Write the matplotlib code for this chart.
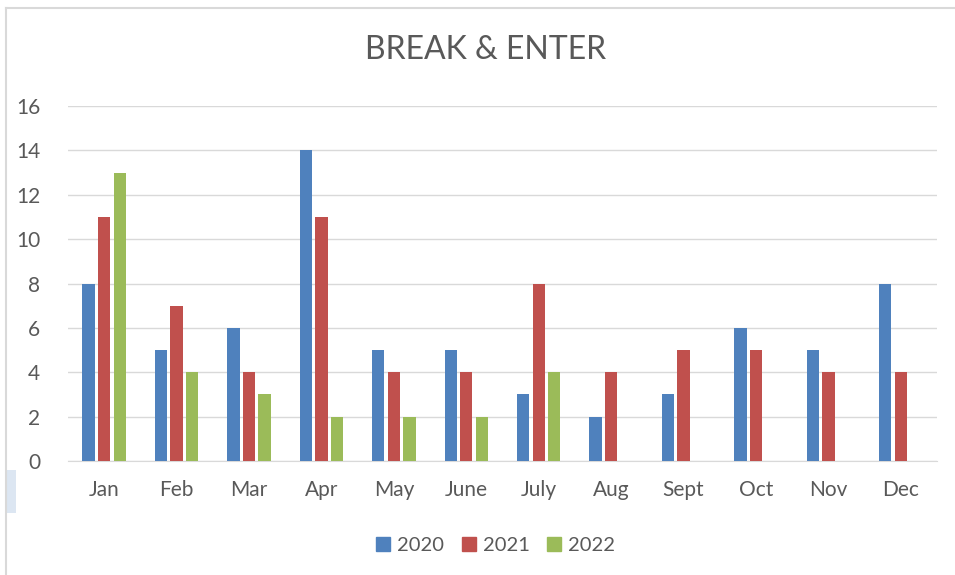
import matplotlib.pyplot as plt
import numpy as np
from matplotlib.patches import Rectangle
from matplotlib.lines import Line2D

plt.rcParams['font.family'] = ['Lato', 'DejaVu Sans']

months = ['Jan', 'Feb', 'Mar', 'Apr', 'May', 'June', 'July', 'Aug', 'Sept', 'Oct', 'Nov', 'Dec']
v2020 = [8, 5, 6, 14, 5, 5, 3, 2, 3, 6, 5, 8]
v2021 = [11, 7, 4, 11, 4, 4, 8, 4, 5, 5, 4, 4]
v2022 = [13, 4, 3, 2, 2, 2, 4, 0, 0, 0, 0, 0]
years = ['2020', '2021', '2022']
colors = ['#4F81BD', '#C0504D', '#9BBB59']

fig = plt.figure(figsize=(9.55, 5.75), dpi=100)
ax = fig.add_axes([68/955, 1-461/575, 869/955, 355/575])

x = np.arange(len(months))
w = 0.17
off = 0.215
for i, (vals, c, lab) in enumerate(zip([v2020, v2021, v2022], colors, years)):
    ax.bar(x + (i-1)*off, vals, width=w, color=c, label=lab, zorder=3)

ax.set_xlim(-0.5, len(months)-0.5)
ax.set_ylim(0, 16)
ax.set_yticks(range(0, 17, 2))
ax.set_xticks(x)
ax.set_xticklabels(months)
ax.tick_params(axis='both', length=0, labelsize=15, colors='#595959')
ax.tick_params(axis='x', pad=14)
ax.tick_params(axis='y', pad=20)
ax.grid(axis='y', color='#D9D9D9', lw=1, zorder=0)
for s in ['top', 'right', 'left']:
    ax.spines[s].set_visible(False)
ax.spines['bottom'].set_color('#D9D9D9')

fig.text(486/955, 1-50/575, 'BREAK & ENTER', ha='center', va='center', fontsize=23, color='#595959')

handles = [Line2D([], [], marker='s', ls='', color=c, markersize=10) for c in colors]
fig.legend(handles, years, loc='center', bbox_to_anchor=(489/955, 1-545/575), ncol=3, frameon=False,
           fontsize=14.5, labelcolor='#595959', handletextpad=-0.3, columnspacing=0.2)

# chart border and stray selection mark
fig.add_artist(Line2D([6/955, 6/955], [0, 1-8/575], transform=fig.transFigure, color='#D9D9D9', lw=1.5))
fig.add_artist(Line2D([6/955, 1], [1-8/575, 1-8/575], transform=fig.transFigure, color='#D9D9D9', lw=1.5))
fig.add_artist(Rectangle((6/955, 1-513/575), 10/955, 43/575, transform=fig.transFigure, color='#DCE6F2', lw=0))

fig.savefig('out.png', dpi=100)
